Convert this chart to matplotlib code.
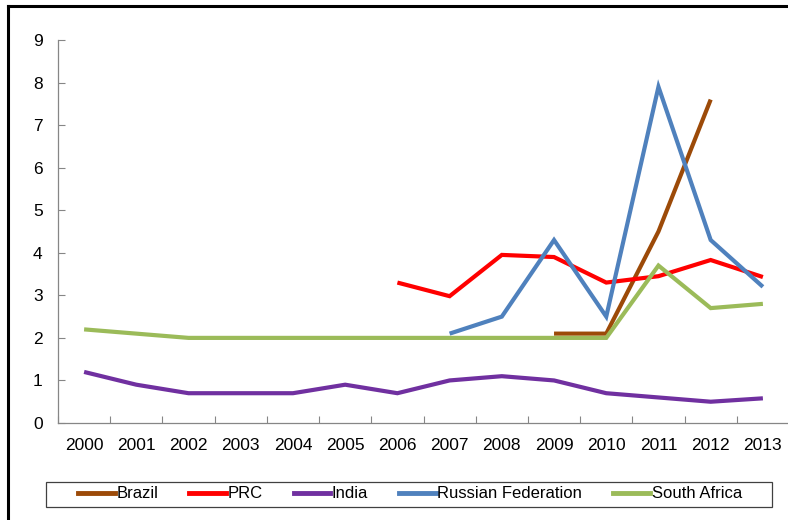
import numpy as np
import matplotlib.pyplot as plt
from matplotlib.patches import Rectangle
from matplotlib.lines import Line2D

plt.rcParams['font.family'] = ['Liberation Sans', 'DejaVu Sans']

years = [str(y) for y in range(2000, 2014)]
nan = np.nan
brazil = [nan, nan, nan, nan, nan, nan, nan, nan, nan, 2.1, 2.1, 4.5, 7.6, nan]
prc = [nan, nan, nan, nan, nan, nan, 3.3, 2.98, 3.95, 3.9, 3.3, 3.45, 3.83, 3.43]
india = [1.2, 0.9, 0.7, 0.7, 0.7, 0.9, 0.7, 1.0, 1.1, 1.0, 0.7, 0.6, 0.5, 0.58]
russia = [nan, nan, nan, nan, nan, nan, nan, 2.1, 2.5, 4.3, 2.5, 7.9, 4.3, 3.2]
south_africa = [2.2, 2.1, 2.0, 2.0, 2.0, 2.0, 2.0, 2.0, 2.0, 2.0, 2.0, 3.7, 2.7, 2.8]

series = [
    ('Brazil', brazil, '#9C4A08'),
    ('PRC', prc, '#FF0000'),
    ('India', india, '#7030A0'),
    ('Russian Federation', russia, '#4F81BD'),
    ('South Africa', south_africa, '#9BBB59'),
]

W, H = 788, 520
fig = plt.figure(figsize=(W / 100, H / 100), dpi=100)
ax = fig.add_axes([58 / W, 1 - 423 / H, (789 - 58) / W, (423 - 40) / H])

x = np.arange(len(years))
for name, vals, col in series:
    ax.plot(x, vals, color=col, lw=3.0, solid_capstyle='butt', solid_joinstyle='miter', label=name)

ax.set_xlim(-0.5, len(years) - 0.5)
ax.set_ylim(0, 9)
ax.set_yticks(range(0, 10))
ax.set_xticks(x)
ax.set_xticklabels(years)
ax.set_xticks(np.arange(-0.5, len(years) + 0.5, 1), minor=True)
ax.tick_params(axis='x', which='major', length=0, pad=11, labelsize=12.5)
ax.tick_params(axis='x', which='minor', direction='in', length=5, color='#868686', width=0.8)
ax.tick_params(axis='y', direction='in', length=5, color='#868686', width=0.8, pad=11, labelsize=12.5)

for s in ['top', 'right']:
    ax.spines[s].set_visible(False)
for s in ['left', 'bottom']:
    ax.spines[s].set_color('#868686')
    ax.spines[s].set_linewidth(0.9)

# legend with separate frame
handles = [Line2D([0], [0], color=c, lw=3.5) for _, _, c in series]
labels = [n for n, _, _ in series]
fig.legend(handles, labels, loc='center', bbox_to_anchor=(410 / W, 1 - 494 / H),
           ncol=5, frameon=False, fontsize=12, handlelength=2.2,
           handletextpad=0.1, columnspacing=1.85)
fig.patches.append(Rectangle((46 / W, 1 - 507 / H), (772 - 46) / W, 25 / H,
                             transform=fig.transFigure, fill=False,
                             edgecolor='#404040', lw=0.9))

# outer black border (cropped on right/bottom)
fig.add_artist(Line2D([8 / W, 8 / W], [0, 1 - 6 / H], transform=fig.transFigure,
                      color='black', lw=2.2))
fig.add_artist(Line2D([8 / W, 1], [1 - 6 / H, 1 - 6 / H], transform=fig.transFigure,
                      color='black', lw=2.2))

fig.savefig('out.png', dpi=100)
